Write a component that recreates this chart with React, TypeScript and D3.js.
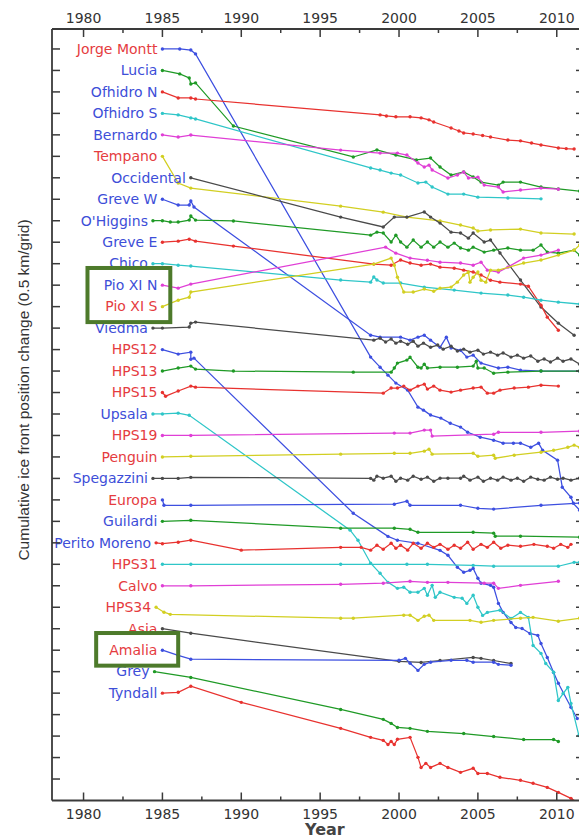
import React from 'react';
import * as d3 from 'd3';

type Pt = [number, number];

// glacier names, top to bottom (one grid step each)
const glaciers = [
  'Jorge Montt', 'Lucia', 'Ofhidro N', 'Ofhidro S', 'Bernardo', 'Tempano', 'Occidental',
  'Greve W', "O'Higgins", 'Greve E', 'Chico', 'Pio XI N', 'Pio XI S', 'Viedma', 'HPS12',
  'HPS13', 'HPS15', 'Upsala', 'HPS19', 'Penguin', 'Spegazzini', 'Europa', 'Guilardi',
  'Perito Moreno', 'HPS31', 'Calvo', 'HPS34', 'Asia', 'Amalia', 'Grey', 'Tyndall',
];

const redLabels = [
  'Jorge Montt', 'Tempano', 'Pio XI S', 'HPS12', 'HPS13', 'HPS15', 'HPS19', 'Penguin',
  'Europa', 'HPS31', 'Calvo', 'HPS34', 'Asia', 'Amalia',
];

const yearTicks = [1980, 1985, 1990, 1995, 2000, 2005, 2010];
const minorYearTicks = [1982.5, 1987.5, 1992.5, 1997.5, 2002.5, 2007.5];
const gridTickCount = 35;

// [year, cumulative change in grid units] (negative = retreat)
const jorgeMontt: Pt[] = [[1985, 0], [1986.1, 0], [1986.8, -0.05], [1987.1, -0.23], [1998.2, -14.35], [1998.8, -14.82], [1999.3, -15.19], [1999.8, -15.56], [2000.55, -15.89], [2001.2, -16.68], [2001.55, -16.82], [2002, -17.05], [2002.65, -17.19], [2003.25, -17.43], [2003.9, -17.61], [2004.35, -17.85], [2005.15, -18.08], [2006, -18.22], [2006.6, -18.36], [2007.25, -18.36], [2007.7, -18.36], [2008.35, -18.55], [2008.85, -18.36], [2009.1, -18.69], [2010.05, -19.15], [2010.35, -20.41], [2010.9, -20.88], [2011.05, -21.16], [2011.45, -21.48]];
const lucia: Pt[] = [[1985, 0], [1986.1, -0.16], [1986.7, -0.35], [1986.8, -0.63], [1987.1, -0.58], [1989.5, -2.59], [1997.1, -4.03], [1998.6, -3.7], [1999.8, -3.94], [2001.1, -4.17], [2002, -4.08], [2002.6, -4.5], [2003.3, -4.87], [2004.1, -4.73], [2004.7, -4.96], [2005.2, -5.2], [2006.3, -5.34], [2006.6, -5.2], [2007.7, -5.2], [2009, -5.43], [2010.1, -5.52], [2011.45, -5.62]];
const ofhidroN: Pt[] = [[1985, 0], [1986, -0.28], [1986.8, -0.28], [1987.1, -0.33], [1998.8, -1.07], [1999.2, -1.12], [1999.8, -1.16], [2000.7, -1.16], [2001.4, -1.21], [2001.9, -1.3], [2002.2, -1.4], [2003.3, -1.68], [2003.8, -1.82], [2004.1, -1.91], [2004.7, -1.96], [2005.3, -2.03], [2005.8, -2.1], [2006.9, -2.24], [2007.7, -2.28], [2008.4, -2.38], [2009, -2.47], [2010.1, -2.61], [2010.6, -2.64], [2011.1, -2.66]];
const ofhidroS: Pt[] = [[1985, 0], [1986, -0.07], [1986.8, -0.21], [1987.1, -0.26], [1998.2, -2.54], [1998.8, -2.64], [1999.5, -2.78], [2000.1, -2.87], [2001.2, -3.24], [2001.7, -3.2], [2002.1, -3.43], [2003.1, -3.76], [2004.1, -3.76], [2005, -3.9], [2006.9, -3.94], [2009, -3.98]];
const bernardo: Pt[] = [[1985, 0], [1986, -0.1], [1986.8, -0.01], [1996.3, -0.71], [1998.8, -0.85], [1999.9, -0.85], [2000.5, -0.94], [2001.2, -1.31], [2001.6, -1.5], [2001.9, -1.41], [2002.1, -1.64], [2003.1, -2.01], [2003.7, -1.87], [2004.1, -1.73], [2004.4, -2.01], [2005, -1.97], [2005.4, -2.34], [2006.3, -2.43], [2006.6, -2.66], [2007.7, -2.57], [2009, -2.48], [2010.1, -2.53]];
const tempano: Pt[] = [[1985, 0], [1986, -1.24], [1986.8, -1.48], [1996.3, -2.32], [1999, -2.6], [2000.5, -2.83], [2002.6, -3.01], [2003.9, -3.2], [2004.7, -3.34], [2005, -3.48], [2005.8, -3.43], [2007.7, -3.39], [2009, -3.57], [2011.1, -3.62]];
const occidental: Pt[] = [[1986.8, 0], [1996.3, -1.83], [1999, -2.29], [1999.7, -1.83], [2000.5, -1.83], [2001.6, -1.59], [2002, -1.83], [2002.6, -2.11], [2003.3, -2.53], [2003.9, -2.57], [2004.4, -2.81], [2004.7, -2.57], [2005.4, -2.99], [2005.8, -2.9], [2006.4, -3.5], [2007.7, -4.76], [2009, -6.02], [2010.1, -6.77], [2011.1, -7.33]];
const greveW: Pt[] = [[1985, 0], [1986, -0.27], [1986.7, -0.27], [1986.8, -0.08], [1987, -0.36], [1998.2, -6.33], [1998.8, -6.42], [2000.1, -6.42], [2000.7, -6.56], [2001.2, -6.42], [2001.6, -6.33], [2002, -6.56], [2002.6, -6.89], [2003, -6.42], [2003.3, -6.93], [2003.9, -7.03], [2004.3, -7.35], [2004.7, -7.26], [2005.2, -7.63], [2006.3, -7.86], [2006.9, -7.82], [2007.7, -7.96], [2009, -8], [2011.45, -8]];
const ohiggins: Pt[] = [[1984.4, 0], [1985, 0], [1985.5, -0.06], [1986, -0.06], [1986.7, 0.03], [1986.8, 0.22], [1987.1, 0.03], [1989.5, -0.01], [1998.2, -0.67], [1998.6, -0.53], [1999, -0.57], [1999.5, -0.99], [1999.8, -0.67], [2000.1, -0.99], [2000.5, -1.23], [2000.9, -0.9], [2001.4, -1.23], [2001.8, -0.99], [2002.2, -1.23], [2002.6, -0.99], [2003.1, -1.23], [2003.5, -1.04], [2003.9, -1.27], [2004.4, -1.37], [2004.7, -1.23], [2005.4, -1.46], [2006, -1.37], [2006.9, -1.27], [2007.7, -1.37], [2008.5, -1.37], [2009, -1.13], [2009.4, -1.46], [2010.1, -1.51], [2011.1, -1.37], [2011.45, -1.6]];
const greveE: Pt[] = [[1985, 0], [1986, 0.05], [1986.7, 0.14], [1987.1, 0.05], [1989.5, -0.18], [1998.4, -1.02], [1999.5, -1.07], [2000.1, -0.83], [2000.7, -0.97], [2001.4, -1.07], [2002, -1.02], [2002.6, -1.16], [2003.5, -1.21], [2004.1, -1.3], [2004.7, -1.39], [2005.2, -1.53], [2005.8, -1.77], [2006.4, -1.86], [2007.7, -1.95], [2008.2, -2.05], [2009, -2.93], [2009.4, -3.49], [2010.1, -4.1]];
const chico: Pt[] = [[1984.4, 0], [1985, 0], [1986, -0.07], [1986.8, -0.11], [1996.3, -0.76], [1998.2, -0.86], [1998.4, -0.62], [1998.6, -0.76], [1999, -0.9], [2000.1, -0.9], [2001.6, -1.09], [2003.5, -1.23], [2005.2, -1.37], [2006.9, -1.46], [2007.9, -1.56], [2009, -1.7], [2010.1, -1.79], [2011.45, -1.88]];
const pioXIN: Pt[] = [[1985, 0], [1986, -0.14], [1986.8, 0.05], [1999.15, 1.77], [1999.8, 1.49], [2000.7, 1.26], [2001.8, 1.16], [2002.6, 1.07], [2003.9, 1.03], [2004.7, 0.93], [2005.2, 1.07], [2005.6, 0.7], [2006.3, 0.61], [2006.9, 0.84], [2007.9, 1.26], [2009, 1.4], [2010.1, 1.63]];
const pioXIS: Pt[] = [[1985, 0], [1986, 0.3], [1986.7, 0.44], [1986.8, 0.68], [1998.4, 1.98], [1999.5, 2.26], [1999.7, 1.93], [1999.9, 1.37], [2000.3, 0.68], [2000.9, 0.68], [2001.6, 0.82], [2002.2, 0.72], [2002.6, 0.86], [2003.3, 0.91], [2003.7, 1.14], [2004.1, 1.47], [2004.4, 1.61], [2004.5, 1.14], [2004.7, 1.37], [2005, 1.61], [2005.2, 1.23], [2005.5, 1.14], [2005.8, 1.7], [2006.3, 1.7], [2007.9, 2.03], [2009, 2.17], [2010.1, 2.4], [2011.1, 2.63], [2011.45, 2.87]];
const viedma: Pt[] = [[1984.4, 0], [1985, 0], [1986.7, 0.05], [1986.8, 0.23], [1987.1, 0.28], [1998.4, -0.56], [1998.8, -0.47], [1999.15, -0.65], [1999.5, -0.51], [1999.8, -0.7], [2000.1, -0.61], [2000.55, -0.75], [2000.9, -0.61], [2001.2, -0.84], [2001.55, -0.7], [2002, -0.89], [2002.45, -0.79], [2002.8, -0.98], [2003.3, -0.84], [2003.7, -1.07], [2004.1, -0.98], [2004.5, -1.12], [2005, -1.03], [2005.35, -1.21], [2005.8, -1.12], [2006.25, -1.26], [2006.6, -1.16], [2007.1, -1.35], [2007.5, -1.26], [2007.9, -1.4], [2008.35, -1.3], [2008.8, -1.54], [2009.2, -1.44], [2009.6, -1.58], [2010.05, -1.4], [2010.4, -1.54], [2010.9, -1.44], [2011.45, -1.68]];
const hps12: Pt[] = [[1985, 0], [1986, -0.21], [1986.8, -0.12], [1986.8, -0.45], [1987, -0.4], [1997.1, -7.62], [1999.3, -8.7], [1999.9, -8.88], [2001.2, -9.02], [2002.6, -9.35], [2003.1, -9.58], [2003.7, -10.14], [2004.1, -10.37], [2004.5, -10.28], [2004.7, -10.19], [2005, -10.65], [2005.2, -10.88], [2005.8, -10.98], [2006, -11.07], [2006.3, -11.82], [2006.6, -12.24], [2007.1, -12.71], [2007.4, -12.94], [2007.8, -12.99], [2008.3, -13.22], [2008.8, -13.31], [2009, -13.69], [2009.4, -14.34], [2009.8, -15.04], [2010.1, -15.54], [2010.9, -16.66], [2011.3, -17.18]];
const hps13: Pt[] = [[1985, 0], [1986, 0.14], [1986.8, 0.23], [1987.1, 0.09], [1989.5, 0], [1997.1, -0.05], [1999.5, -0.05], [1999.7, 0.14], [1999.9, 0.37], [2000.5, 0.51], [2000.7, 0.65], [2001.2, 0.18], [2001.4, 0.14], [2001.6, 0.32], [2001.8, 0.14], [2002.6, 0.18], [2003.7, 0.18], [2004.7, 0.23], [2004.9, 0.46], [2005, 0.14], [2005.4, 0.14], [2006, -0.1], [2006.9, -0.05], [2009, 0], [2011.45, 0]];
const hps15: Pt[] = [[1985, 0], [1985.2, -0.17], [1986, 0.07], [1986.8, 0.3], [1987.1, 0.25], [1999, -0.03], [1999.5, 0.21], [1999.9, 0.21], [2000.3, 0.3], [2000.7, 0.11], [2001.2, 0.3], [2001.6, 0.39], [2001.8, 0.16], [2002.2, 0.3], [2002.6, 0.11], [2003.3, 0.02], [2003.9, 0.11], [2004.7, 0.21], [2005.2, 0.25], [2005.6, -0.03], [2006, -0.03], [2006.4, 0.11], [2007.3, 0.21], [2008.2, 0.25], [2009, 0.34], [2010.1, 0.3]];
const upsala: Pt[] = [[1984.4, 0], [1985, 0], [1986, 0.04], [1986.7, -0.06], [1996.9, -5.41], [1997.4, -5.88], [1998.2, -6.95], [1998.8, -7.42], [1999.3, -7.84], [1999.9, -8.12], [2000.3, -8.07], [2000.7, -8.3], [2001.2, -8.3], [2001.6, -8.12], [2001.8, -8.44], [2002.1, -7.98], [2002.3, -8.54], [2002.6, -8.3], [2003.5, -8.54], [2004, -8.58], [2004.3, -8.82], [2004.7, -8.44], [2005, -9], [2005.3, -9.38], [2005.6, -9.24], [2006.4, -9.14], [2007.1, -9.52], [2007.7, -9.24], [2008.2, -9.47], [2008.5, -10.78], [2009, -11.15], [2009.3, -11.62], [2009.8, -12.03], [2010.1, -13.34], [2010.4, -13.02], [2010.7, -12.73], [2010.9, -13.48], [2011.4, -14.97]];
const hps19: Pt[] = [[1985, 0], [1986.8, 0], [1999.7, 0.11], [2000.7, 0.11], [2001.6, 0.25], [2002, 0.25], [2002.1, -0.03], [2006, 0.06], [2006.3, 0.15], [2009, 0.15], [2011.45, 0.2]];
const penguin: Pt[] = [[1985, 0], [1986.8, 0.03], [1996.3, 0.13], [1999.7, 0.17], [2000.7, 0.17], [2001.6, 0.27], [2001.9, 0.36], [2002.1, 0.13], [2004.7, 0.17], [2005, 0.03], [2006, 0.08], [2006.1, -0.06], [2007.3, 0.08], [2009, 0.22], [2009.8, 0.31], [2010.7, 0.45], [2011.1, 0.55], [2011.45, 0.45]];
const spegazzini: Pt[] = [[1984.4, 0], [1985, 0], [1986, 0], [1986.8, 0.05], [1998.2, 0], [1998.4, -0.08], [1998.6, 0.1], [1999, 0.01], [1999.5, 0.1], [1999.8, -0.13], [2000.1, 0.01], [2000.55, -0.08], [2000.9, 0.1], [2001.4, -0.04], [2001.8, 0.06], [2002.2, -0.13], [2002.6, 0.01], [2003.1, 0.01], [2003.9, 0.01], [2004.1, 0.1], [2004.5, -0.08], [2005, 0.06], [2005.35, -0.13], [2005.8, 0.01], [2006.25, -0.08], [2006.6, 0.06], [2007.1, -0.08], [2007.5, 0.01], [2007.9, -0.13], [2008.35, 0.06], [2008.8, -0.04], [2009.2, -0.08], [2009.6, 0.06], [2010.05, -0.04], [2010.4, 0.01], [2010.9, -0.08], [2011.45, 0.01]];
const europa: Pt[] = [[1985, 0], [1985.1, -0.25], [1986.8, -0.25], [1999.7, -0.2], [2000.5, -0.06], [2000.7, -0.25], [2003.9, -0.25], [2005, -0.39], [2006, -0.43], [2009, -0.25], [2011.45, -0.15]];
const guilardi: Pt[] = [[1985, 0], [1986.8, 0.05], [1996.3, -0.32], [1999.7, -0.32], [2000.7, -0.37], [2001.2, -0.51], [2004.7, -0.51], [2006, -0.55], [2006.1, -0.69], [2007.7, -0.69], [2011.45, -0.74]];
const peritoMoreno: Pt[] = [[1984.6, 0], [1985, -0.04], [1986, 0.03], [1986.8, 0.12], [1990, -0.34], [1996.3, -0.21], [1997.6, -0.21], [1998.2, -0.34], [1998.6, -0.11], [1999, -0.3], [1999.5, -0.02], [1999.8, -0.25], [2000.1, -0.11], [2000.55, -0.34], [2000.9, -0.02], [2001.4, -0.25], [2001.8, -0.02], [2002.2, -0.21], [2002.6, -0.07], [2003.1, -0.3], [2003.5, -0.11], [2003.9, -0.25], [2004.35, 0.03], [2004.7, -0.3], [2005.2, -0.07], [2005.6, -0.21], [2006, 0.03], [2006.45, -0.25], [2006.9, -0.11], [2007.7, -0.16], [2008.55, -0.07], [2009.4, -0.16], [2009.8, -0.25], [2010.25, -0.07], [2010.7, -0.21], [2010.9, -0.07]];
const hps31: Pt[] = [[1985, 0], [1986.8, 0], [1996.3, 0], [2000.5, 0], [2001.8, 0], [2004.7, -0.05], [2006, -0.09], [2010.1, -0.09], [2011.1, 0.09], [2011.45, 0.09]];
const calvo: Pt[] = [[1985, 0], [1986.8, 0], [1996.3, 0.07], [1999, 0.12], [2000.7, 0.21], [2001.8, 0.16], [2003.1, 0.16], [2005.4, 0.12], [2006, 0.12], [2006.3, -0.12], [2007.7, 0.02], [2010.1, 0.21]];
const hps34: Pt[] = [[1984.6, 0], [1985.1, -0.23], [1985.5, -0.33], [1996.3, -0.51], [1997.1, -0.51], [2000.3, -0.37], [2000.7, -0.37], [2001.2, -0.61], [2001.6, -0.42], [2001.9, -0.37], [2002.2, -0.61], [2004.5, -0.61], [2005.2, -0.7], [2006, -0.61], [2007.7, -0.51], [2008.5, -0.47], [2010.1, -0.65], [2011.45, -0.51]];
const asia: Pt[] = [[1985, 0], [1986.8, -0.21], [2000, -1.52], [2001.4, -1.57], [2002.6, -1.48], [2004.7, -1.34], [2005.2, -1.38], [2006, -1.48], [2007.1, -1.62]];
const amalia: Pt[] = [[1985, 0], [1986, -0.24], [1986.8, -0.42], [2000, -0.47], [2000.4, -0.38], [2000.7, -0.61], [2001.2, -0.94], [2001.6, -0.66], [2002, -0.56], [2003.3, -0.47], [2004.3, -0.47], [2004.7, -0.56], [2006, -0.56], [2006.3, -0.66], [2007.1, -0.7]];
const grey: Pt[] = [[1984.5, 0], [1986.8, -0.27], [1996.3, -1.76], [1999, -2.22], [1999.5, -2.41], [1999.9, -2.6], [2000.7, -2.64], [2001.8, -2.78], [2004.1, -2.88], [2006, -3.02], [2007.9, -3.16], [2009.8, -3.16], [2010.1, -3.25]];
const tyndall: Pt[] = [[1985, 0], [1986, 0.04], [1986.8, 0.32], [1990, -0.43], [1996.3, -1.64], [1998.2, -2.06], [1999, -2.2], [1999.3, -2.39], [1999.5, -2.25], [1999.7, -2.39], [1999.9, -2.15], [2000.7, -2.06], [2001.2, -2.99], [2001.4, -3.46], [2001.7, -3.27], [2002, -3.46], [2002.6, -3.27], [2003.1, -3.46], [2003.9, -3.69], [2004.7, -3.5], [2005, -3.74], [2005.6, -3.74], [2006.4, -3.92], [2007.7, -4.06], [2008.5, -4.2], [2009.4, -4.39], [2010.1, -4.62], [2010.9, -4.9], [2011.3, -5.09]];

const series: Pt[][] = [
  jorgeMontt, lucia, ofhidroN, ofhidroS, bernardo, tempano, occidental, greveW, ohiggins,
  greveE, chico, pioXIN, pioXIS, viedma, hps12, hps13, hps15, upsala, hps19, penguin,
  spegazzini, europa, guilardi, peritoMoreno, hps31, calvo, hps34, asia, amalia, grey, tyndall,
];

// highlighted label groups
const boxedGroups = [['Pio XI N', 'Pio XI S'], ['Amalia']];

// MATLAB-like colour order b g r c m y k
const lineColors = ['#3d4fe0', '#1f9a26', '#e8322f', '#2fc6c8', '#e03fd6', '#d2cf22', '#4a4a4a'];
const labelRed = '#e53c3f';
const labelBlue = '#3d4ed8';
const axisColor = '#3a3a3a';
const boxColor = '#4d7a2b';
const font = 'DejaVu Sans, Verdana, sans-serif';

const W = 579;
const H = 838;

export default function App() {
  const x = d3.scaleLinear().domain([1978, 2011.6]).range([52, 582]);
  const y = d3.scaleLinear().domain([-0.93, 35]).range([29, 800.5]);
  const [x0, x1] = x.range();
  const [y0, y1] = y.range();
  const gridTicks = d3.range(gridTickCount);

  const makeLine = (i: number) =>
    d3.line<Pt>().x(d => x(d[0])).y(d => y(i - d[1]));

  return (
    <svg width={W} height={H} style={{ position: 'absolute', left: 0, top: 0, background: '#fff' }}>
      <defs>
        <clipPath id="plot">
          <rect x={x0} y={y0} width={x1 - x0} height={y1 - y0} />
        </clipPath>
      </defs>

      <g clipPath="url(#plot)">
        {series.map((pts, i) => {
          const c = lineColors[i % lineColors.length];
          return (
            <g key={glaciers[i]}>
              <path d={makeLine(i)(pts) || ''} fill="none" stroke={c} strokeWidth={1.25} />
              {pts.map((d, j) => (
                <circle key={j} cx={x(d[0])} cy={y(i - d[1])} r={1.7} fill={c} />
              ))}
            </g>
          );
        })}
      </g>

      {/* labels */}
      {glaciers.map((name, i) => (
        <text
          key={name}
          x={x(series[i][0][0]) - 5}
          y={y(i) + 4.8}
          textAnchor="end"
          fontFamily={font}
          fontSize={14}
          fill={redLabels.includes(name) ? labelRed : labelBlue}
        >
          {name}
        </text>
      ))}

      {/* highlight boxes */}
      {boxedGroups.map(group => {
        const idx = group.map(g => glaciers.indexOf(g));
        const top = y(d3.min(idx)! - 0.8);
        const bot = y(d3.max(idx)! + 0.72);
        const left = group.length > 1 ? x(1980.25) : x(1980.8);
        const right = group.length > 1 ? x(1985.5) : x(1986.0);
        return (
          <rect key={group.join()} x={left} y={top} width={right - left} height={bot - top}
            fill="none" stroke={boxColor} strokeWidth={4} />
        );
      })}

      {/* axes frame */}
      <g stroke={axisColor} strokeWidth={1.8} fill="none">
        <line x1={x0} x2={x0} y1={y0} y2={y1} />
        <line x1={x1} x2={x1} y1={y0} y2={y1} />
        <line x1={x0} x2={x1} y1={y0} y2={y0} />
        <line x1={x0} x2={x1} y1={y1} y2={y1} />
      </g>
      <g stroke={axisColor} strokeWidth={1.5}>
        {gridTicks.map(t => (
          <g key={t}>
            <line x1={x0} x2={x0 + 8} y1={y(t)} y2={y(t)} />
            <line x1={x1} x2={x1 - 6} y1={y(t)} y2={y(t)} />
          </g>
        ))}
        {yearTicks.map(t => (
          <g key={t}>
            <line x1={x(t)} x2={x(t)} y1={y1} y2={y1 - 8} />
            <line x1={x(t)} x2={x(t)} y1={y0} y2={y0 + 8} />
          </g>
        ))}
        {minorYearTicks.map(t => (
          <g key={t}>
            <line x1={x(t)} x2={x(t)} y1={y1} y2={y1 - 4} />
            <line x1={x(t)} x2={x(t)} y1={y0} y2={y0 + 4} />
          </g>
        ))}
      </g>
      {yearTicks.map(t => (
        <g key={t} fontFamily={font} fontSize={14} fill="#333" textAnchor="middle">
          <text x={x(t)} y={y0 - 6}>{t}</text>
          <text x={x(t)} y={y1 + 18}>{t}</text>
        </g>
      ))}

      <text x={x(1995.3)} y={835} textAnchor="middle" fontFamily={font} fontSize={16}
        fontWeight="bold" fill="#444">Year</text>
      <text transform={`translate(29, 390) rotate(-90)`} textAnchor="middle"
        fontFamily="Liberation Sans, Arial, sans-serif" fontSize={15.5} fill="#333">
        Cumulative ice front position change (0.5 km/grid)
      </text>
    </svg>
  );
}
